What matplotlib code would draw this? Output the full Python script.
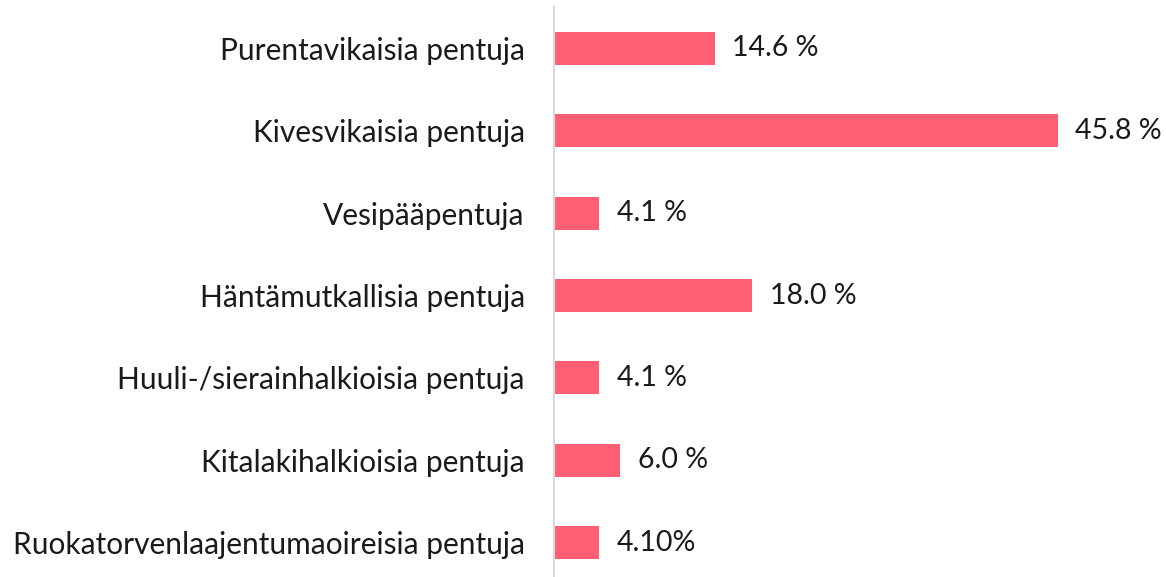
import matplotlib.pyplot as plt

categories = [
    'Purentavikaisia pentuja',
    'Kivesvikaisia pentuja',
    'Vesipääpentuja',
    'Häntämutkallisia pentuja',
    'Huuli-/sierainhalkioisia pentuja',
    'Kitalakihalkioisia pentuja',
    'Ruokatorvenlaajentumaoireisia pentuja',
]
values = [14.6, 45.8, 4.1, 18.0, 4.1, 6.0, 4.1]
value_labels = ['14.6 %', '45.8 %', '4.1 %', '18.0 %', '4.1 %', '6.0 %', '4.10%']

plt.rcParams['font.family'] = ['Lato', 'DejaVu Sans']

fig = plt.figure(figsize=(11.66, 5.77), dpi=100)
# axes spans 7 rows of ~82.4 px, slightly past the bottom edge
ax = fig.add_axes([554 / 1166, -7 / 577, (1104 - 554) / 1166, 577 / 577])

y = list(range(len(categories)))
ax.barh(y, values, height=0.4, color='#ff5f75')
for yi, v, lab in zip(y, values, value_labels):
    ax.text(v + 1.6, yi, lab, va='center', ha='left', fontsize=20.5, color='#1a1a1a')

ax.set_ylim(len(categories) - 0.5, -0.5)
ax.set_xlim(0, 50)
ax.set_yticks(y)
ax.set_yticklabels(categories, fontsize=21.5, color='#1a1a1a')
ax.tick_params(axis='y', length=0, pad=21)
ax.set_xticks([])
for s in ['top', 'right', 'bottom']:
    ax.spines[s].set_visible(False)
ax.spines['left'].set_color('#d9d9d9')
ax.spines['left'].set_linewidth(1.5)

fig.savefig('out.png', dpi=100)
